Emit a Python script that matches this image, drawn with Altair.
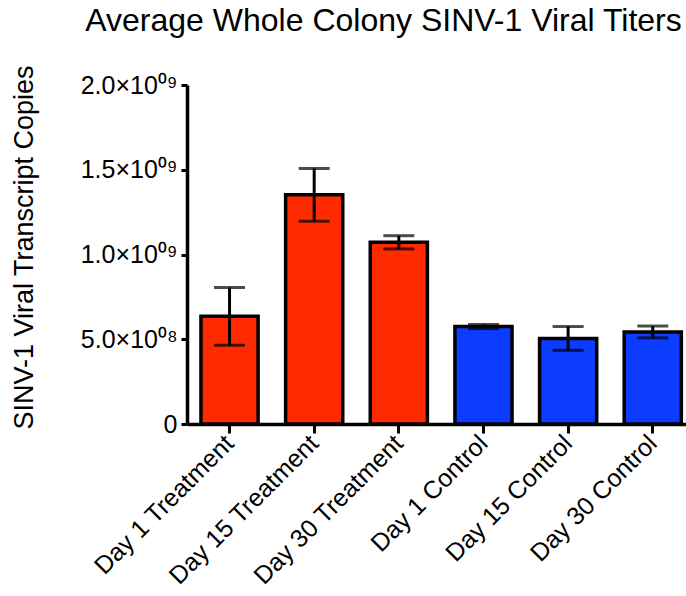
import altair as alt
import pandas as pd

categories = ["Day 1 Treatment", "Day 15 Treatment", "Day 30 Treatment",
              "Day 1 Control", "Day 15 Control", "Day 30 Control"]
groups = ["Treatment", "Treatment", "Treatment", "Control", "Control", "Control"]
means = [6.35e8, 1.352e9, 1.072e9, 5.75e8, 5.05e8, 5.43e8]
sems = [1.70e8, 1.56e8, 0.39e8, 0.12e8, 0.70e8, 0.35e8]

tick_values = [0, 5e8, 1e9, 1.5e9, 2e9]
tick_labels = ["0", "5.0×10⁰⁸", "1.0×10⁰⁹", "1.5×10⁰⁹", "2.0×10⁰⁹"]

group_names = ["Treatment", "Control"]
group_colors = ["#FF2A00", "#0B3CFF"]

df = pd.DataFrame({
    "cat": categories,
    "group": groups,
    "mean": means,
    "sem": sems,
})
df["lo"] = df["mean"] - df["sem"]
df["hi"] = df["mean"] + df["sem"]

expr = "''"
for v, lab in zip(tick_values, tick_labels):
    expr = f"datum.value == {v:.0f} ? '{lab}' : ({expr})"

FONT = "Liberation Sans"

x_enc = alt.X(
    "cat:N", sort=categories, title=None,
    scale=alt.Scale(paddingInner=0.325, paddingOuter=0.11, align=0.75),
    axis=alt.Axis(labelAngle=-45, labelAlign="right", labelBaseline="middle",
                  labelFontSize=25, labelFont=FONT, labelColor="black",
                  labelLimit=0, labelPadding=6, tickSize=9, tickWidth=3,
                  tickColor="black", domainWidth=3.5, domainColor="black", grid=False),
)
y_scale = alt.Scale(domain=[0, 2e9], nice=False, zero=True)

bars = alt.Chart(df).mark_bar(stroke="black", strokeWidth=3.5).encode(
    x=x_enc,
    y=alt.Y("mean:Q", scale=y_scale, title="SINV-1 Viral Transcript Copies",
            axis=alt.Axis(values=tick_values, labelExpr=expr, labelFontSize=25,
                          labelFont=FONT, labelColor="black", labelPadding=4,
                          tickSize=6, tickWidth=3, tickColor="black",
                          domainWidth=3.5, domainColor="black", grid=False,
                          titleFont=FONT, titleFontSize=27, titleFontWeight="normal",
                          titleColor="black", titleX=-163, titleY=162,
                          titleAngle=-90, titleAlign="center", titleBaseline="middle")),
    color=alt.Color("group:N", scale=alt.Scale(domain=group_names, range=group_colors),
                    legend=None),
)

err = alt.Chart(df).mark_rule(color="black", strokeWidth=3).encode(
    x=alt.X("cat:N", sort=categories),
    y=alt.Y("lo:Q", scale=y_scale),
    y2="hi:Q",
)
cap_hi = alt.Chart(df).mark_tick(color="black", thickness=3, size=31, orient="horizontal").encode(
    x=alt.X("cat:N", sort=categories),
    y=alt.Y("hi:Q", scale=y_scale),
)
cap_lo = alt.Chart(df).mark_tick(color="black", thickness=3, size=31, orient="horizontal").encode(
    x=alt.X("cat:N", sort=categories),
    y=alt.Y("lo:Q", scale=y_scale),
)

chart = alt.layer(bars, err, cap_hi, cap_lo).properties(
    width=499, height=339,
    background="white",
    title=alt.TitleParams("Average Whole Colony SINV-1 Viral Titers",
                          font=FONT, fontSize=32, fontWeight="normal",
                          color="black", anchor="middle", frame="group",
                          dx=-53, dy=-23),
    autosize=alt.AutoSizeParams(type="none"),
    padding={"left": 187, "top": 85, "right": 0, "bottom": 172},
).configure_view(stroke=None).configure_axis(grid=False)

chart.save("out.html", embed_options={"renderer": "svg", "actions": False})
